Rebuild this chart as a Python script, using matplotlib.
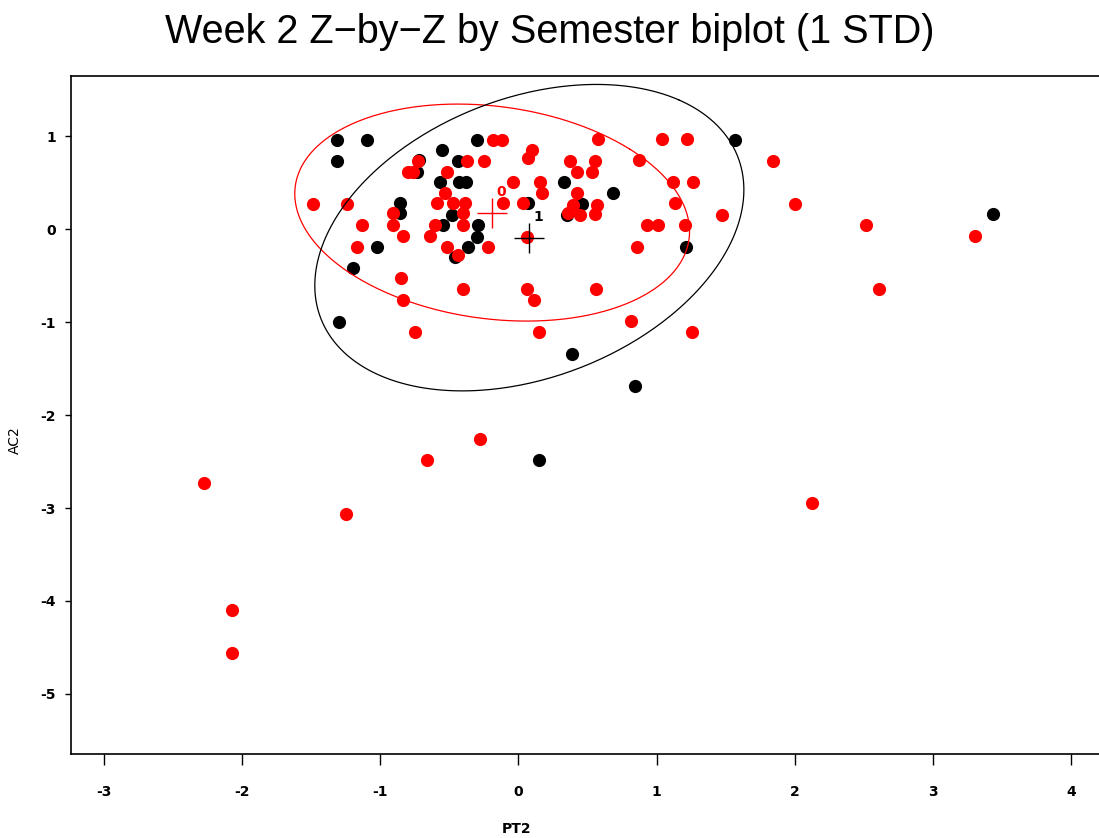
import numpy as np
import matplotlib
matplotlib.use('Agg')
from matplotlib import pyplot as plt

plt.rcParams['axes.unicode_minus'] = False

# Semester 1 (black) scores
pt2_sem1 = [-1.316, -1.094, -1.316, -0.298, -0.555, -0.435, -0.718, -0.736, -0.568,
            -0.428, -0.379, 0.332, 0.687, -0.857, -0.857, 0.072, 0.458, -0.483,
            0.350, -0.544, -0.290, -0.302, -0.363, -0.459, -1.024, -1.196, 1.211,
            1.568, -1.297, 0.386, 0.844, 0.149, 3.436]
ac2_sem1 = [0.961, 0.961, 0.735, 0.961, 0.855, 0.735, 0.746, 0.620, 0.512,
            0.512, 0.512, 0.506, 0.388, 0.280, 0.172, 0.280, 0.269, 0.154,
            0.154, 0.046, 0.046, -0.080, -0.187, -0.295, -0.187, -0.420, -0.187,
            0.961, -0.995, -1.342, -1.687, -2.483, 0.165]

# Semester 0 (red) scores
pt2_sem0 = [-0.184, -0.119, 0.579, 1.038, 1.219, 0.096, 0.072, -0.374, -0.249,
            -0.725, -0.797, -0.761, -0.519, 0.374, 0.422, 0.555, 0.531, 0.873,
            1.843, -0.037, 0.156, 1.122, 1.266, -0.532, 0.169, 0.422, -1.490,
            -1.239, -0.592, -0.471, -0.387, -0.109, 0.035, 1.134, 0.398, 0.567,
            2.003, -0.906, -0.399, 0.361, 0.446, 0.555, 1.474, -1.135, -0.906,
            -0.604, -0.399, 0.929, 1.013, 1.206, 2.517, -0.833, -0.640, 0.060,
            3.306, -1.171, -0.519, -0.218, 0.857, -0.435, -0.852, -0.403, 0.060,
            0.113, 0.562, 2.611, -0.833, 0.813, -0.749, 0.151, 1.259, -0.278,
            -0.662, -2.277, 2.127, -1.248, -2.074, -2.074]
ac2_sem0 = [0.961, 0.961, 0.972, 0.972, 0.972, 0.855, 0.764, 0.735, 0.735,
            0.735, 0.620, 0.620, 0.620, 0.735, 0.620, 0.735, 0.620, 0.746,
            0.735, 0.512, 0.512, 0.506, 0.506, 0.388, 0.388, 0.388, 0.272,
            0.272, 0.280, 0.280, 0.280, 0.280, 0.280, 0.280, 0.262, 0.262,
            0.272, 0.172, 0.172, 0.172, 0.154, 0.161, 0.154, 0.046, 0.046,
            0.046, 0.046, 0.046, 0.046, 0.046, 0.046, -0.069, -0.069, -0.080,
            -0.072, -0.187, -0.187, -0.187, -0.187, -0.277, -0.527, -0.646, -0.646,
            -0.761, -0.646, -0.643, -0.761, -0.984, -1.102, -1.102, -1.102, -2.257,
            -2.483, -2.731, -2.946, -3.065, -4.100, -4.563]

# group centroids and covariance (for the 1 STD ellipses)
groups = ['0', '1']
group_colors = ['red', 'black']
centroids = [(-0.190, 0.180), (0.079, -0.090)]
covariances = [[[2.04, -0.29], [-0.29, 1.364]],
               [[2.41, 0.80], [0.80, 2.72]]]

fig = plt.figure(figsize=(10.99, 8.38), dpi=100)
ax = fig.add_axes([0.0643, 0.1002, 0.9387, 0.8091])

ax.scatter(pt2_sem1, ac2_sem1, s=90, c='black', linewidths=0, zorder=3)
ax.scatter(pt2_sem0, ac2_sem0, s=90, c='red', linewidths=0, zorder=4)

t = np.linspace(0.8, 0.8 + 2 * np.pi, 400)
circle = np.vstack([np.cos(t), np.sin(t)])
for name, col, c, cov in zip(groups, group_colors, centroids, covariances):
    L = np.linalg.cholesky(np.array(cov))
    pts = L @ circle
    ax.plot(c[0] + pts[0], c[1] + pts[1], color=col, lw=0.9, zorder=5,
            solid_capstyle='round', solid_joinstyle='round')
    ax.plot(c[0], c[1], marker='+', ms=22, mew=1.0, color=col, ls='none', zorder=6)
    ax.annotate(name, (c[0], c[1]), xytext=(3, 9.5), textcoords='offset points',
                color=col, fontsize=10, fontweight='bold', ha='left', va='bottom',
                zorder=7)

ax.set_xlim(-3.24, 4.225)
ax.set_ylim(-5.648, 1.650)
ax.set_xticks(range(-3, 5))
ax.set_yticks(range(-5, 2))
ax.tick_params(axis='x', direction='out', length=8, width=1, pad=14, labelsize=10)
ax.tick_params(axis='y', direction='out', length=4.5, width=1, pad=6, labelsize=10)
for lab in ax.get_xticklabels() + ax.get_yticklabels():
    lab.set_fontweight('bold')
for side in ['left', 'bottom', 'top']:
    ax.spines[side].set_linewidth(1.2)
ax.spines['right'].set_visible(False)

ax.set_xlabel('PT2', fontsize=10, fontweight='bold')
ax.set_ylabel('AC2', fontsize=10)
ax.xaxis.set_label_coords(0.4326, -0.100)
ax.yaxis.set_label_coords(-0.047, 0.463)

fig.text(550 / 1099, 1 - 32 / 838, 'Week 2 Z\u2212by\u2212Z by Semester biplot (1 STD)',
         fontsize=28.5, family='Liberation Sans', ha='center', va='center')

fig.savefig('out.png', dpi=100)
